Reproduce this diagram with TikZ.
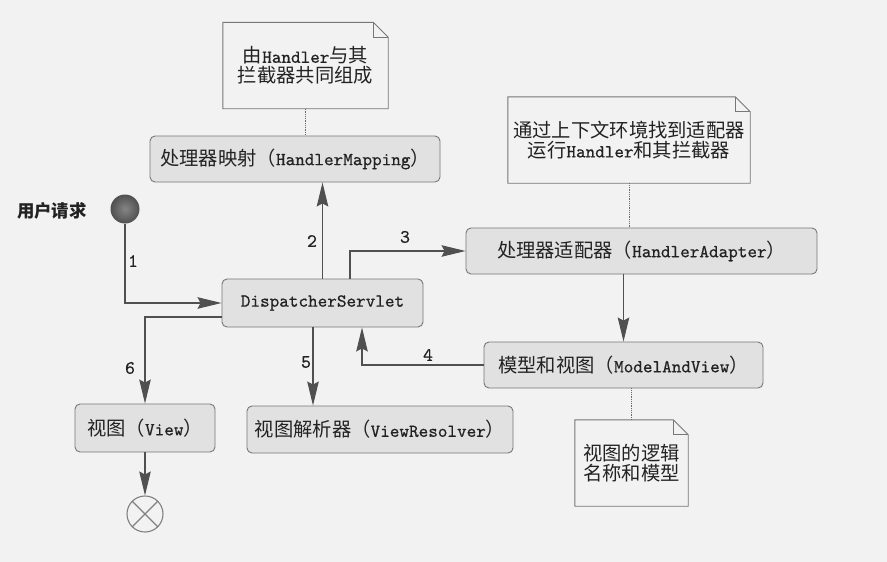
\documentclass[tikz,border=0pt]{standalone}
\usepackage{fontspec}
\setmainfont{lmmono10-regular}[Extension=.otf, FakeBold=0.6]
\newfontfamily\cjk[Scale=1.055]{Noto Sans CJK SC}
\usetikzlibrary{arrows.meta,calc}

\definecolor{paper}{HTML}{F2F2F2}
\definecolor{boxfill}{HTML}{E1E1E1}
\definecolor{boxline}{HTML}{777777}
\definecolor{wire}{HTML}{505050}
\definecolor{ink}{HTML}{222222}
\definecolor{ballhi}{HTML}{858585}
\definecolor{balllo}{HTML}{505050}
\definecolor{endline}{HTML}{808080}

% Chinese run inside a Latin line
\newcommand\zh[1]{{\cjk #1}}

% outline of a note with a folded top-right corner around node #1
\newcommand\foldnote[1]{%
  \draw[boxline, line width=0.9pt]
    (#1.north west) -- ([xshift=-15pt]#1.north east)
    -- ([yshift=-15pt]#1.north east) -- (#1.south east)
    -- (#1.south west) -- cycle;
  \draw[boxline, line width=0.8pt]
    ([xshift=-15pt]#1.north east) -- ([xshift=-15pt,yshift=-15pt]#1.north east)
    -- ([yshift=-15pt]#1.north east);
}

\begin{document}
\begin{tikzpicture}[x=1pt,y=-1pt,
  stepbox/.style={draw=boxline, line width=0.9pt, fill=boxfill,
    rounded corners=5pt, minimum height=46pt, inner sep=0pt,
    font=\fontsize{18.3}{20}\selectfont, text=ink},
  notebox/.style={minimum height=86pt, inner sep=0pt, align=center,
    font=\fontsize{18.3}{20}\selectfont, text=ink},
  flow/.style={draw=wire, line width=1.1pt,
    -{Stealth[length=24pt,width=11.5pt,inset=3pt]}},
  tie/.style={draw=wire!85, line width=0.8pt, densely dotted},
  num/.style={font=\fontsize{19}{20}\selectfont, text=ink},
]
% page
\fill[paper] (0,0) rectangle (887,562);
\useasboundingbox (0,0) rectangle (887,562);

% notes
\node[notebox, minimum width=165pt] (note1) at (305.5,65.5)
  {\zh{由}Handler\zh{与其}\\\zh{拦截器共同组成}};
\foldnote{note1}
\node[notebox, minimum width=242pt] (note2) at (629,140)
  {\zh{通过上下文环境找到适配器}\\\zh{运行}Handler\zh{和其拦截器}};
\foldnote{note2}
\node[notebox, minimum width=113pt] (note3) at (631.5,463)
  {\zh{视图的逻辑}\\\zh{名称和模型}};
\foldnote{note3}

% processing steps
\node[stepbox, minimum width=290pt] (hm) at (295,159)
  {\zh{处理器映射（}HandlerMapping\zh{）}};
\node[stepbox, minimum width=351pt] (ha) at (641.5,251)
  {\zh{处理器适配器（}HandlerAdapter\zh{）}};
\node[stepbox, minimum width=201pt, minimum height=48pt] (ds) at (322.5,303)
  {DispatcherServlet};
\node[stepbox, minimum width=279pt] (mav) at (623.5,365)
  {\zh{模型和视图（}ModelAndView\zh{）}};
\node[stepbox, minimum width=140pt, minimum height=48pt] (view) at (145,428)
  {\zh{视图（}View\zh{）}};
\node[stepbox, minimum width=266pt, minimum height=47pt] (vr) at (380,429.5)
  {\zh{视图解析器（}ViewResolver\zh{）}};

% start and end
\node[circle, inner sep=0pt, minimum size=29pt,
  inner color=ballhi, outer color=balllo] (start) at (125,209) {};
\node[font=\fontsize{16.5}{18}\selectfont\cjk\bfseries, text=ink] (user) at (52,211) {用户请求};
\node[circle, draw=endline, line width=1.1pt, inner sep=0pt,
  minimum size=36pt] (stop) at (145,514) {};
\draw[endline, line width=1.1pt] (stop.north east) -- (stop.south west)
  (stop.north west) -- (stop.south east);

% note ties
\draw[tie] (note1.south) -- (note1.south |- hm.north);
\draw[tie] (note2.south) -- (note2.south |- ha.north);
\draw[tie] (note3.north |- mav.south) -- (note3.north);

% flow
\draw[flow] (start) |- (ds.west);
\draw[flow] (ds.north) -- (ds.north |- hm.south);
\draw[flow] ([xshift=27.5pt]ds.north) |- (ha.west);
\draw[flow] (ha.south -| mav.north) -- (mav.north);
\draw[flow] (mav.west) -| ([xshift=39.5pt]ds.south);
\draw[flow] ([xshift=-9.5pt]ds.south) -- ([xshift=-9.5pt]ds.south |- vr.north);
\draw[flow] ([yshift=-14pt]ds.west) -| (view.north);
\draw[flow] (view.south) -- (stop.north);

% step numbers
\node[num] (n1) at (133,261) {1};
\node[num] (n2) at (312,241) {2};
\node[num] (n3) at (405,237) {3};
\node[num] (n4) at (428,355) {4};
\node[num] (n5) at (306,362) {5};
\node[num] (n6) at (130,368) {6};
\end{tikzpicture}
\end{document}
